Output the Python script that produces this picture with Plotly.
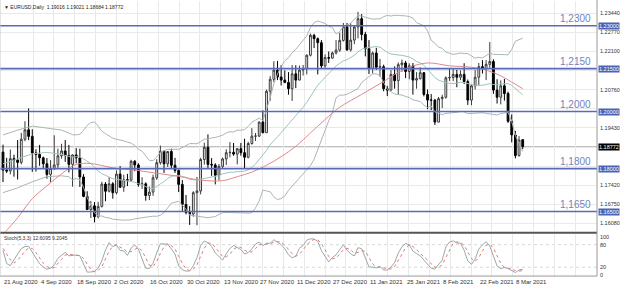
import plotly.graph_objects as go
import pandas as pd

# ---------------- data (EURUSD daily) ----------------
opens = [1.1858,1.1795,1.1792,1.1835,1.1830,1.1822,1.1903,1.1936,1.1913,1.1855,
         1.1850,1.1838,1.1817,1.1780,1.1801,1.1813,1.1845,1.1862,1.1846,1.1815,
         1.1848,1.1838,1.1771,1.1703,1.1657,1.1670,1.1632,1.1668,1.1746,1.1721,
         1.1747,1.1716,1.1781,1.1735,1.1761,1.1760,1.1826,1.1813,1.1745,1.1747,
         1.1706,1.1718,1.1768,1.1821,1.1861,1.1817,1.1860,1.1812,1.1794,1.1745,
         1.1675,1.1647,1.1641,1.1716,1.1722,1.1832,1.1875,1.1815,1.1813,1.1777,
         1.1808,1.1834,1.1856,1.1857,1.1851,1.1870,1.1856,1.1840,1.1888,1.1914,
         1.1914,1.1963,1.1926,1.2071,1.2113,1.2145,1.2121,1.2110,1.2102,1.2080,
         1.2132,1.2110,1.2145,1.2150,1.2197,1.2267,1.2255,1.2241,1.2160,1.2189,
         1.2187,1.2205,1.2215,1.2249,1.2297,1.2216,1.2250,1.2296,1.2325,1.2270,
         1.2220,1.2151,1.2205,1.2155,1.2157,1.2080,1.2075,1.2130,1.2108,1.2164,
         1.2170,1.2140,1.2160,1.2110,1.2115,1.2136,1.2060,1.2040,1.2040,1.1963,
         1.2045,1.2050,1.2118,1.2119,1.2130,1.2120,1.2130,1.2105,1.2040,1.2090,
         1.2120,1.2157,1.2150,1.2165,1.2175,1.2075,1.2050,1.2090,1.2063,1.1966,
         1.1918,1.1846,1.19016]
highs = [1.1884,1.1838,1.1867,1.1849,1.1900,1.1925,1.1966,1.2011,1.1938,1.1868,
         1.1883,1.1842,1.1837,1.1830,1.1917,1.1870,1.1887,1.1900,1.1883,1.1850,
         1.1872,1.1870,1.1781,1.1721,1.1687,1.1683,1.1684,1.1754,1.1753,1.1770,
         1.1753,1.1794,1.1809,1.1779,1.1782,1.1831,1.1830,1.1819,1.1770,1.1752,
         1.1737,1.1779,1.1833,1.1881,1.1864,1.1860,1.1870,1.1838,1.1797,1.1760,
         1.1708,1.1669,1.1721,1.1771,1.1838,1.1891,1.1920,1.1837,1.1819,1.1816,
         1.1839,1.1868,1.1893,1.1890,1.1872,1.1890,1.1905,1.1894,1.1942,1.1925,
         1.1965,1.2004,1.2077,1.2124,1.2176,1.2177,1.2163,1.2144,1.2138,1.2163,
         1.2162,1.2161,1.2163,1.2200,1.2273,1.2272,1.2259,1.2250,1.2200,1.2210,
         1.2210,1.2250,1.2276,1.2310,1.2310,1.2309,1.2301,1.2349,1.2341,1.2279,
         1.2250,1.2210,1.2223,1.2184,1.2164,1.2090,1.2145,1.2158,1.2172,1.2182,
         1.2177,1.2169,1.2170,1.2138,1.2155,1.2138,1.2077,1.2061,1.2044,1.2051,
         1.2059,1.2123,1.2150,1.2150,1.2146,1.2144,1.2169,1.2112,1.2094,1.2145,
         1.2170,1.2180,1.2180,1.2243,1.2183,1.2113,1.2109,1.2114,1.2070,1.1990,
         1.1932,1.1914,1.19021]
lows = [1.1753,1.1785,1.1780,1.1772,1.1762,1.1815,1.1896,1.1900,1.1789,1.1790,
        1.1810,1.1801,1.1765,1.1753,1.1795,1.1799,1.1835,1.1824,1.1787,1.1737,
        1.1819,1.1736,1.1700,1.1655,1.1627,1.1612,1.1626,1.1664,1.1686,1.1717,
        1.1695,1.1710,1.1733,1.1719,1.1739,1.1757,1.1791,1.1737,1.1729,1.1688,
        1.1690,1.1705,1.1761,1.1814,1.1785,1.1806,1.1802,1.1785,1.1718,1.1650,
        1.1640,1.1603,1.1632,1.1602,1.1710,1.1814,1.1800,1.1775,1.1745,1.1759,
        1.1799,1.1813,1.1840,1.1845,1.1815,1.1845,1.1800,1.1836,1.1884,1.1897,
        1.1911,1.1924,1.1925,1.2038,1.2103,1.2110,1.2091,1.2099,1.2059,1.2037,
        1.2082,1.2110,1.2126,1.2130,1.2193,1.2222,1.2130,1.2152,1.2153,1.2170,
        1.2185,1.2200,1.2209,1.2245,1.2212,1.2210,1.2236,1.2256,1.2249,1.2193,
        1.2131,1.2133,1.2145,1.2122,1.2071,1.2054,1.2073,1.2080,1.2060,1.2139,
        1.2117,1.2113,1.2059,1.2080,1.2112,1.2053,1.2008,1.2005,1.1953,1.1962,
        1.2012,1.2045,1.2107,1.2106,1.2085,1.2110,1.2096,1.2023,1.2022,1.2077,
        1.2091,1.2133,1.2110,1.2153,1.2062,1.2028,1.2025,1.2038,1.1960,1.1892,
        1.1836,1.1842,1.18684]
closes = [1.1795,1.1792,1.1835,1.1830,1.1822,1.1903,1.1936,1.1913,1.1855,1.1850,
          1.1838,1.1817,1.1780,1.1801,1.1813,1.1845,1.1862,1.1846,1.1815,1.1848,
          1.1838,1.1771,1.1703,1.1657,1.1670,1.1632,1.1668,1.1746,1.1721,1.1747,
          1.1716,1.1781,1.1735,1.1761,1.1760,1.1826,1.1813,1.1745,1.1747,1.1706,
          1.1718,1.1768,1.1821,1.1861,1.1817,1.1860,1.1812,1.1794,1.1745,1.1675,
          1.1647,1.1641,1.1716,1.1722,1.1832,1.1875,1.1815,1.1813,1.1777,1.1808,
          1.1834,1.1856,1.1857,1.1851,1.1870,1.1856,1.1840,1.1888,1.1914,1.1914,
          1.1963,1.1926,1.2071,1.2113,1.2145,1.2121,1.2110,1.2102,1.2080,1.2132,
          1.2110,1.2145,1.2150,1.2197,1.2267,1.2255,1.2241,1.2160,1.2189,1.2187,
          1.2205,1.2215,1.2249,1.2297,1.2216,1.2250,1.2296,1.2325,1.2270,1.2220,
          1.2151,1.2205,1.2155,1.2157,1.2080,1.2075,1.2130,1.2108,1.2164,1.2170,
          1.2140,1.2160,1.2110,1.2115,1.2136,1.2060,1.2040,1.2040,1.1963,1.2045,
          1.2050,1.2118,1.2119,1.2130,1.2120,1.2130,1.2105,1.2040,1.2090,1.2120,
          1.2157,1.2150,1.2165,1.2175,1.2075,1.2050,1.2090,1.2063,1.1966,1.1918,
          1.1846,1.1900,1.18772]

# red moving average at these bar indices
ma_idx = [0, 4, 8, 12, 16, 20, 24, 30, 36, 42, 48, 54, 60, 64, 68, 72, 76, 80,
          84, 88, 92, 98, 104, 110, 116, 122, 128, 132, 136, 139, 142]
ma_val = [1.1570, 1.1628, 1.1695, 1.1740, 1.1782, 1.1815, 1.1818, 1.1803, 1.1795,
          1.1784, 1.1773, 1.1760, 1.1758, 1.1772, 1.1788, 1.1812, 1.1842, 1.1878,
          1.1925, 1.1972, 1.2015, 1.2060, 1.2105, 1.2150, 1.2170, 1.2160, 1.2155,
          1.2145, 1.2125, 1.2103, 1.2080]

# Bollinger band values on the first bars (before 20 closes exist)
bb_head_idx = [0, 4, 8, 12, 16, 18]
bb_head_up = [1.1918, 1.1935, 1.1949, 1.1942, 1.1935, 1.1925]
bb_head_mid = [1.1817, 1.1834, 1.1852, 1.1857, 1.1850, 1.1843]
bb_head_lo = [1.1716, 1.1733, 1.1754, 1.1772, 1.1775, 1.1772]

# Stochastic values on the first bars
st_head_main = [65, 30, 24, 38, 55, 70]
st_head_sig = [70, 55, 40, 31, 39, 50, 63, 71]

date_labels = ["21 Aug 2020", "4 Sep 2020", "18 Sep 2020", "2 Oct 2020", "16 Oct 2020",
               "30 Oct 2020", "13 Nov 2020", "27 Nov 2020", "11 Dec 2020", "27 Dec 2020",
               "11 Jan 2021", "25 Jan 2021", "8 Feb 2021", "22 Feb 2021", "8 Mar 2021"]
date_label_idx = [0, 10, 20, 30, 40, 50, 60, 70, 80, 90, 100, 110, 120, 130, 140]

levels = [1.2300, 1.2150, 1.2000, 1.1800, 1.1650]
level_texts = ["1,2300", "1,2150", "1,2000", "1,1800", "1,1650"]
level_box_texts = ["1.23000", "1.21500", "1.20000", "1.18000", "1.16500"]

# price grid levels; labels hidden under the level boxes are left blank
price_ticks = [1.16080, 1.16750, 1.17420, 1.18080, 1.18750, 1.19430, 1.20090,
               1.20760, 1.21430, 1.22100, 1.22770, 1.23440]
price_tick_text = ["1.16080", "1.16750", "1.17420", "", "", "1.19430",
                   "", "1.20760", "", "1.22100", "1.22770", "1.23440"]
stoch_ticks = [0, 20, 80, 100]

title_text = "\u25bc EURUSD,Daily  1.19016 1.19021 1.18684 1.18772"
stoch_text = "Stoch(5,3,3) 12.6095 9.2045"
last_price = 1.18772

# ---------------- indicators ----------------
n = len(closes)
bars = list(range(n))
cs = pd.Series(closes)
hs = pd.Series(highs)
ls = pd.Series(lows)
mid = cs.rolling(20).mean()
sd = cs.rolling(20).std(ddof=0)
up = mid + 2 * sd
lo = mid - 2 * sd
bb_x = bb_head_idx + list(range(19, n))
bb_up = bb_head_up + list(up[19:])
bb_mid = bb_head_mid + list(mid[19:])
bb_lo = bb_head_lo + list(lo[19:])

hh = hs.rolling(5).max()
ll = ls.rolling(5).min()
k = 100 * (cs - ll).rolling(3).sum() / (hh - ll).rolling(3).sum()
d = k.rolling(3).mean()
st_main = st_head_main + list(k[6:])
st_sig = st_head_sig + list(d[8:])

# ---------------- figure ----------------
FONT = "Liberation Sans, Arial, sans-serif"
H = 288.0
def py(pix):
    return (H - pix) / H

fig = go.Figure()
band_col = "#a9b6b6"
fig.add_trace(go.Scatter(x=bb_x, y=bb_up, mode="lines", line=dict(color=band_col, width=1),
                         hoverinfo="skip", xaxis="x", yaxis="y"))
fig.add_trace(go.Scatter(x=bb_x, y=bb_lo, mode="lines", line=dict(color=band_col, width=1),
                         hoverinfo="skip", xaxis="x", yaxis="y"))
fig.add_trace(go.Scatter(x=bb_x, y=bb_mid, mode="lines", line=dict(color="#9cc4bc", width=1),
                         hoverinfo="skip", xaxis="x", yaxis="y"))
fig.add_trace(go.Scatter(x=ma_idx, y=ma_val, mode="lines", line=dict(color="#de8a8a", width=1),
                         line_shape="spline", hoverinfo="skip", xaxis="x", yaxis="y"))
fig.add_trace(go.Candlestick(
    x=bars, open=opens, high=highs, low=lows, close=closes,
    increasing=dict(line=dict(color="#3a3a3a", width=1), fillcolor="#ffffff"),
    decreasing=dict(line=dict(color="#000000", width=1), fillcolor="#000000"),
    whiskerwidth=0, xaxis="x", yaxis="y"))
fig.add_trace(go.Scatter(x=bars, y=st_main, mode="lines", line=dict(color="#9aa9a9", width=1),
                         hoverinfo="skip", xaxis="x2", yaxis="y2"))
fig.add_trace(go.Scatter(x=bars, y=st_sig, mode="lines",
                         line=dict(color="#e07a7a", width=1, dash="dot"),
                         hoverinfo="skip", xaxis="x2", yaxis="y2"))

xr = [-0.82, 162.3]
grid_x = [8.2 + 5.7 * j for j in range(28)]
grid_col = "#e9e9e9"

shapes = []
for lv in levels:
    shapes.append(dict(type="line", xref="paper", yref="y", x0=0, x1=1, y0=lv, y1=lv,
                       line=dict(color="#5a6abb", width=1.6), layer="above"))
shapes.append(dict(type="line", xref="paper", yref="y", x0=0, x1=1, y0=last_price, y1=last_price,
                   line=dict(color="#b9b9b9", width=1), layer="below"))
for lvl in [20, 80]:
    shapes.append(dict(type="line", xref="paper", yref="y2", x0=0, x1=1, y0=lvl, y1=lvl,
                       line=dict(color="#d8d8d8", width=1, dash="dot"), layer="below"))
# panel separator and frame
shapes.append(dict(type="line", xref="paper", yref="paper", x0=0, x1=1, y0=py(234.5), y1=py(234.5),
                   line=dict(color="#555555", width=2)))
shapes.append(dict(type="line", xref="paper", yref="paper", x0=1, x1=1, y0=py(278), y1=1,
                   line=dict(color="#9a9a9a", width=1)))
shapes.append(dict(type="line", xref="paper", yref="paper", x0=0, x1=1, y0=py(278), y1=py(278),
                   line=dict(color="#9a9a9a", width=1)))
shapes.append(dict(type="line", xref="paper", yref="paper", x0=0, x1=0, y0=py(278), y1=1,
                   line=dict(color="#c8c8c8", width=1)))

ann = []
for lab, ix in zip(date_labels, date_label_idx):
    ann.append(dict(x=ix, y=py(283.5), xref="x", yref="paper", text=lab, showarrow=False,
                    xanchor="left", yanchor="middle", xshift=-1,
                    font=dict(size=6, color="#333333", family=FONT)))
for lv, t, bt in zip(levels, level_texts, level_box_texts):
    ann.append(dict(x=0.993, y=lv, xref="paper", yref="y", text=t, showarrow=False,
                    xanchor="right", yanchor="bottom", yshift=0,
                    font=dict(size=10, color="#7283bd", family=FONT)))
    ann.append(dict(x=1, y=lv, xref="paper", yref="y", text=bt, showarrow=False,
                    xanchor="left", yanchor="middle", xshift=1, bgcolor="#4a63b4",
                    borderpad=0, font=dict(size=5.5, color="#ffffff", family=FONT)))
ann.append(dict(x=1, y=last_price, xref="paper", yref="y", text="1.18772", showarrow=False,
                xanchor="left", yanchor="middle", xshift=1, bgcolor="#000000",
                borderpad=0, font=dict(size=5.5, color="#ffffff", family=FONT)))
ann.append(dict(x=0.004, y=py(7), xref="paper", yref="paper", text=title_text, showarrow=False,
                xanchor="left", yanchor="middle", font=dict(size=5, color="#222222", family=FONT)))
ann.append(dict(x=0.004, y=py(239.5), xref="paper", yref="paper", text=stoch_text, showarrow=False,
                xanchor="left", yanchor="middle", font=dict(size=5, color="#333333", family=FONT)))

fig.update_layout(
    width=620, height=288,
    margin=dict(l=0, r=23, t=0, b=0),
    paper_bgcolor="#ffffff", plot_bgcolor="#ffffff",
    showlegend=False,
    xaxis=dict(domain=[0, 1], range=xr, anchor="y", tickvals=grid_x, showticklabels=False,
               showgrid=True, gridcolor=grid_col, gridwidth=1, zeroline=False, ticks="",
               rangeslider=dict(visible=False), fixedrange=True),
    xaxis2=dict(domain=[0, 1], range=xr, anchor="y2", tickvals=grid_x, showticklabels=False,
                showgrid=True, gridcolor=grid_col, gridwidth=1, zeroline=False, ticks="",
                fixedrange=True),
    yaxis=dict(domain=[py(233), py(1)], range=[1.15805, 1.23869], side="right",
               tickvals=price_ticks, ticktext=price_tick_text, showgrid=True, gridcolor=grid_col,
               zeroline=False, ticks="", ticklabelstandoff=2,
               tickfont=dict(size=5.5, color="#333333", family=FONT)),
    yaxis2=dict(domain=[py(278), py(235.5)], range=[-3.4, 108.6], side="right",
                tickvals=stoch_ticks, showgrid=False, zeroline=False, ticks="",
                ticklabelstandoff=2, tickfont=dict(size=5.5, color="#333333", family=FONT)),
    shapes=shapes, annotations=ann,
)

fig.write_html("out.html")
